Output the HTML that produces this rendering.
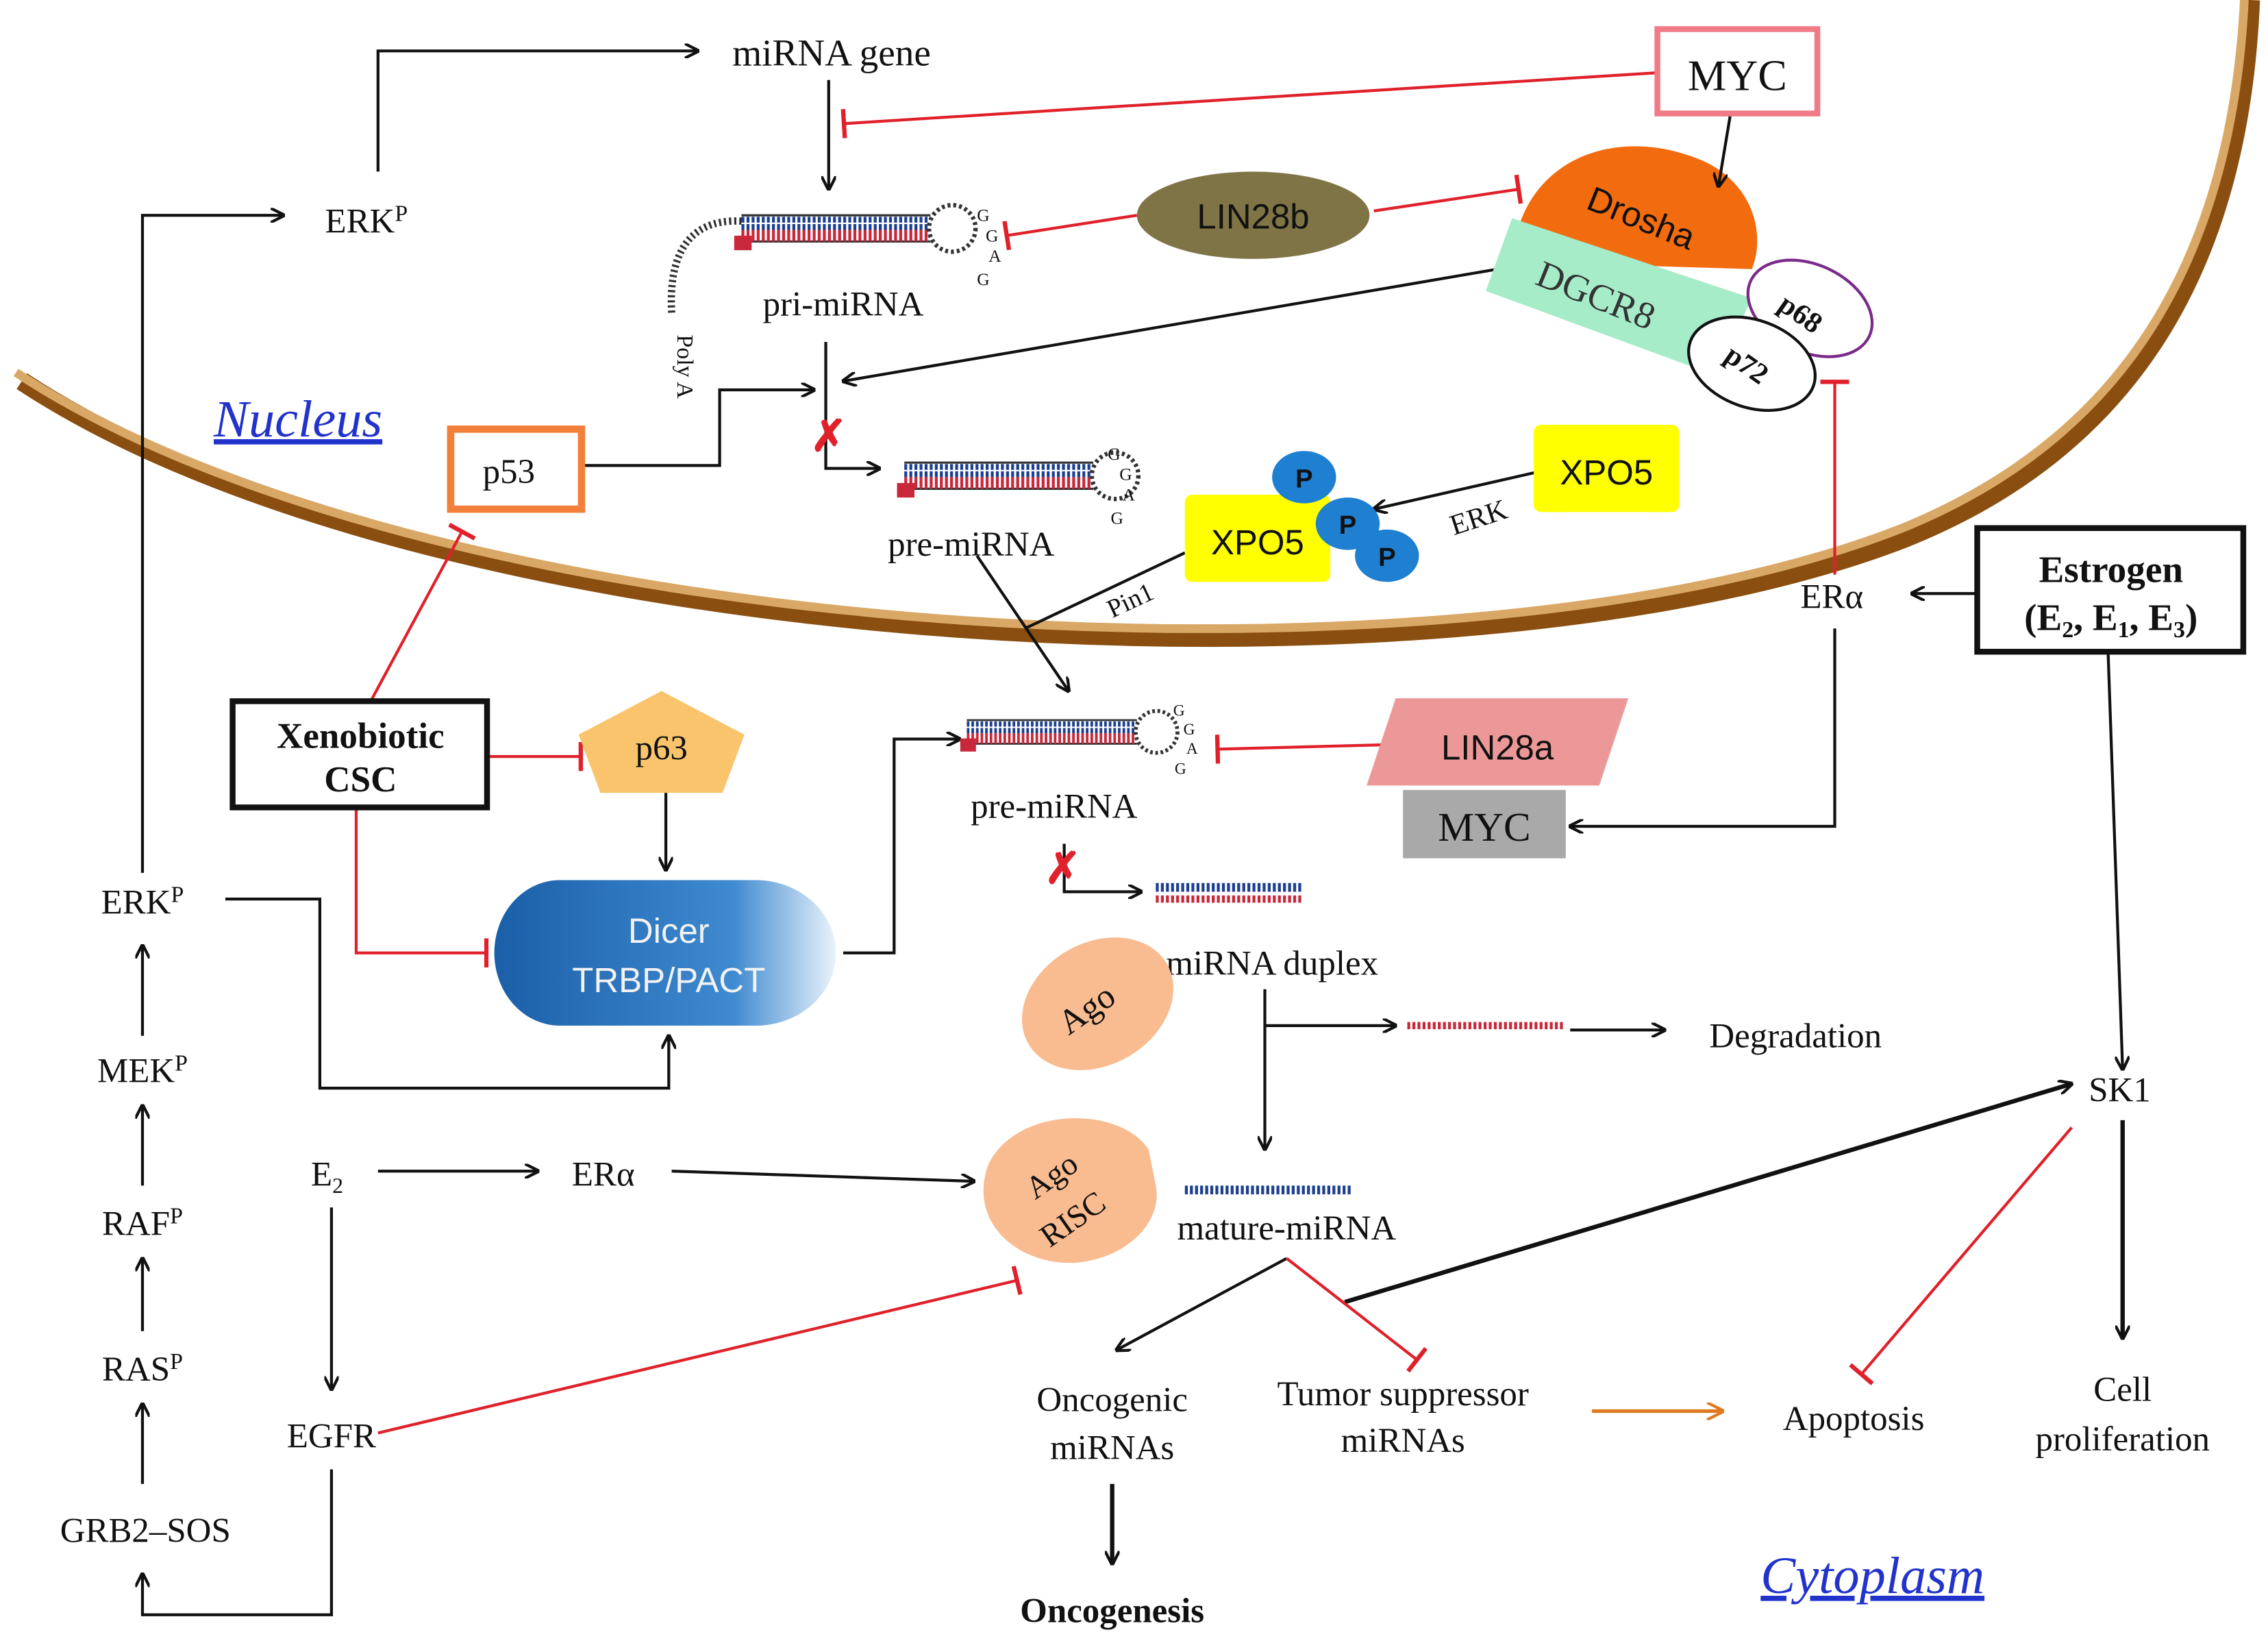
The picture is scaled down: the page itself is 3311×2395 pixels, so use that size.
<!DOCTYPE html>
<html><head><meta charset="utf-8"><style>
html,body{margin:0;padding:0;background:#fff}
svg{display:block}
text{font-family:"Liberation Serif",serif;fill:#111}
.s{font-family:"Liberation Sans",sans-serif}
</style></head><body>
<svg width="3311" height="2395" viewBox="0 0 1560 1128" preserveAspectRatio="none" xmlns="http://www.w3.org/2000/svg">
<defs>
<marker id="a" markerWidth="10" markerHeight="10" refX="9" refY="5" orient="auto" markerUnits="userSpaceOnUse"><path d="M0,0 L10,5 L0,10" fill="none" stroke="#111" stroke-width="2"/></marker>
<marker id="ao" markerWidth="12" markerHeight="12" refX="11" refY="6" orient="auto" markerUnits="userSpaceOnUse"><path d="M0,0 L12,6 L0,12" fill="none" stroke="#e07a20" stroke-width="2"/></marker>
<marker id="t" markerWidth="4" markerHeight="20" refX="2" refY="10" orient="auto" markerUnits="userSpaceOnUse"><rect x="0" y="0" width="3" height="20" fill="#e0202a"/></marker>
<linearGradient id="dg" x1="0" x2="1"><stop offset="0" stop-color="#1a5fa8"/><stop offset="0.7" stop-color="#3f8ad0"/><stop offset="1" stop-color="#eaf3fb"/></linearGradient>
<g id="hp">
<path d="M0,0 H130 M0,18 H130" stroke="#333" stroke-width="1.5"/>
<path d="M0,3 H128 M0,8 H128" stroke="#1d3f8f" stroke-width="4" stroke-dasharray="2,1.5"/>
<path d="M0,12 H128 M0,16 H128" stroke="#c8283a" stroke-width="4" stroke-dasharray="2,1.5"/>
<rect x="-5" y="14" width="12" height="10" fill="#c8283a"/>
<circle cx="145" cy="9" r="16" fill="#fff" stroke="#333" stroke-width="3" stroke-dasharray="2,2"/>
</g>
<g id="dx">
<path d="M0,4 H100" stroke="#1d3f8f" stroke-width="6" stroke-dasharray="2,1.5"/>
<path d="M0,12 H100" stroke="#c8283a" stroke-width="5" stroke-dasharray="2,1.5"/>
</g>
</defs>

<path d="M15,262 C300,450 1000,490 1310,370 C1460,310 1540,190 1548,0" fill="none" stroke="#8a4f10" stroke-width="13"/>
<path d="M15,262 C300,450 1000,490 1310,370 C1460,310 1540,190 1548,0" fill="none" stroke="#d9a866" stroke-width="6" transform="translate(-4,-6)"/>

<g stroke="#111" stroke-width="2" fill="none">
<path d="M260,118 V35 H480" marker-end="url(#a)"/>
<path d="M98,600 V148 H195" marker-end="url(#a)"/>
<path d="M570,55 V130" marker-end="url(#a)"/>
<path d="M1030,185 L580,262" marker-end="url(#a)"/>
<path d="M568,235 V322 H605" marker-end="url(#a)"/>
<path d="M400,320 H495 V268 H560" marker-end="url(#a)"/>
<path d="M1055,325 L945,350" marker-end="url(#a)"/>
<path d="M815,380 L705,432"/>
<path d="M672,382 L735,475" marker-end="url(#a)"/>
<path d="M1360,408 L1315,408" marker-end="url(#a)"/>
<path d="M1262,432 V568 H1080" marker-end="url(#a)"/>
<path d="M1450,448 L1460,735" marker-end="url(#a)"/>
<path d="M458,545 V598" marker-end="url(#a)"/>
<path d="M580,655 H615 V508 H660" marker-end="url(#a)"/>
<path d="M732,580 V613 H785" marker-end="url(#a)"/>
<path d="M870,680 V790" marker-end="url(#a)"/>
<path d="M870,705 H960" marker-end="url(#a)"/>
<path d="M1080,708 H1145" marker-end="url(#a)"/>
<path d="M155,618 H220 V748 H460 V712" marker-end="url(#a)"/>
<path d="M98,712 V650" marker-end="url(#a)"/>
<path d="M98,815 V760" marker-end="url(#a)"/>
<path d="M98,915 V865" marker-end="url(#a)"/>
<path d="M98,1020 V965" marker-end="url(#a)"/>
<path d="M260,805 H370" marker-end="url(#a)"/>
<path d="M462,805 L670,812" marker-end="url(#a)"/>
<path d="M228,830 V955" marker-end="url(#a)"/>
<path d="M228,1010 V1110 H98 V1082" marker-end="url(#a)"/>
<path d="M885,865 L768,928" marker-end="url(#a)"/>
<path d="M925,895 L1425,745" stroke-width="3" marker-end="url(#a)"/>
<path d="M1460,770 V920" stroke-width="3" marker-end="url(#a)"/>
<path d="M765,1020 V1075" stroke-width="3" marker-end="url(#a)"/>
</g>
<path d="M1095,970 H1185" stroke="#e07a20" stroke-width="2.5" marker-end="url(#ao)"/>

<g stroke="#e0202a" stroke-width="2" fill="none">
<path d="M1140,50 L580,85" marker-end="url(#t)"/>
<path d="M782,148 L692,162" marker-end="url(#t)"/>
<path d="M945,145 L1045,130" marker-end="url(#t)"/>
<path d="M1262,395 V262" marker-end="url(#t)"/>
<path d="M255,482 L318,365" marker-end="url(#t)"/>
<path d="M335,520 H400" marker-end="url(#t)"/>
<path d="M245,555 V655 H335" marker-end="url(#t)"/>
<path d="M950,512 L837,515" marker-end="url(#t)"/>
<path d="M260,985 L700,880" marker-end="url(#t)"/>
<path d="M885,865 L975,935" marker-end="url(#t)"/>
<path d="M1425,775 L1280,945" marker-end="url(#t)"/>
</g>
<text x="570" y="310" font-size="30" style="fill:#e0202a" text-anchor="middle" font-weight="bold">✗</text>
<text x="731" y="607" font-size="30" style="fill:#e0202a" text-anchor="middle" font-weight="bold">✗</text>

<path d="M510,152 C470,150 460,180 462,215" fill="none" stroke="#333" stroke-width="5" stroke-dasharray="1.5,2"/>
<use href="#hp" x="510" y="148"/>
<text x="672" y="152" font-size="12">G</text><text x="678" y="166" font-size="12">G</text><text x="680" y="180" font-size="12">A</text><text x="672" y="196" font-size="12">G</text>
<text x="580" y="217" font-size="24" text-anchor="middle">pri-miRNA</text>
<text x="0" y="0" font-size="16" transform="translate(466,230) rotate(90)">Poly A</text>
<use href="#hp" x="622" y="318"/>
<text x="762" y="316" font-size="12">G</text><text x="770" y="330" font-size="12">G</text><text x="772" y="344" font-size="12">A</text><text x="764" y="360" font-size="12">G</text>
<text x="668" y="382" font-size="24" text-anchor="middle">pre-miRNA</text>
<use href="#hp" x="665" y="495" transform="translate(665,495) scale(0.9) translate(-665,-495)"/>
<text x="807" y="492" font-size="11">G</text><text x="814" y="505" font-size="11">G</text><text x="816" y="518" font-size="11">A</text><text x="808" y="532" font-size="11">G</text>
<text x="725" y="562" font-size="24" text-anchor="middle">pre-miRNA</text>
<use href="#dx" x="795" y="606"/>
<text x="875" y="670" font-size="24" text-anchor="middle">miRNA duplex</text>
<path d="M968,705 H1075" stroke="#c8283a" stroke-width="5" stroke-dasharray="2,1.5"/>
<path d="M815,818 H930" stroke="#1d3f8f" stroke-width="6" stroke-dasharray="2,1.5"/>
<text x="885" y="852" font-size="24" text-anchor="middle">mature-miRNA</text>

<rect x="1140" y="20" width="110" height="58" fill="#fff" stroke="#f07a85" stroke-width="4"/>
<text x="1195" y="62" font-size="30" text-anchor="middle">MYC</text>
<ellipse cx="862" cy="148" rx="80" ry="30" fill="#7f7445"/>
<text x="862" y="157" font-size="24" class="s" text-anchor="middle">LIN28b</text>
<path d="M1040,180 C1045,110 1110,85 1170,110 C1205,125 1215,160 1205,185 Z" fill="#f26b0f"/>
<text x="0" y="0" font-size="24" class="s" transform="translate(1090,143) rotate(22)">Drosha</text>
<path d="M1040,150 L1205,205 L1180,258 L1022,200 Z" fill="#a6ecc8"/>
<text x="0" y="0" font-size="26" transform="translate(1055,195) rotate(22)" style="fill:#333">DGCR8</text>
<ellipse cx="1245" cy="212" rx="45" ry="30" fill="#fff" stroke="#7a2a8a" stroke-width="2" transform="rotate(25 1245 212)"/>
<text x="0" y="0" font-size="20" font-weight="bold" transform="translate(1222,212) rotate(35)">p68</text>
<ellipse cx="1205" cy="250" rx="45" ry="30" fill="#fff" stroke="#111" stroke-width="2" transform="rotate(20 1205 250)"/>
<text x="0" y="0" font-size="20" font-weight="bold" transform="translate(1185,247) rotate(35)">p72</text>
<path d="M1190,80 L1182,128" stroke="#111" stroke-width="2" fill="none" marker-end="url(#a)"/>

<text x="205" y="300" font-size="36" font-style="italic" text-anchor="middle" text-decoration="underline" style="fill:#2233cc">Nucleus</text>
<rect x="310" y="295" width="90" height="55" fill="#fff" stroke="#f2803a" stroke-width="5"/>
<text x="350" y="332" font-size="24" text-anchor="middle">p53</text>

<rect x="1055" y="292" width="100" height="60" rx="5" fill="#ffff00"/>
<text x="1105" y="333" font-size="24" class="s" text-anchor="middle">XPO5</text>
<text x="0" y="0" font-size="20" transform="translate(1000,368) rotate(-18)">ERK</text>
<rect x="815" y="340" width="100" height="60" rx="5" fill="#ffff00"/>
<text x="865" y="381" font-size="24" class="s" text-anchor="middle">XPO5</text>
<ellipse cx="897" cy="328" rx="22" ry="18" fill="#1f7fd0"/><text x="897" y="335" font-size="18" class="s" font-weight="bold" text-anchor="middle">P</text>
<ellipse cx="927" cy="360" rx="22" ry="18" fill="#1f7fd0"/><text x="927" y="367" font-size="18" class="s" font-weight="bold" text-anchor="middle">P</text>
<ellipse cx="954" cy="382" rx="22" ry="18" fill="#1f7fd0"/><text x="954" y="389" font-size="18" class="s" font-weight="bold" text-anchor="middle">P</text>
<text x="0" y="0" font-size="18" transform="translate(765,425) rotate(-25)">Pin1</text>

<text x="1260" y="418" font-size="24" text-anchor="middle">ERα</text>
<rect x="1360" y="363" width="183" height="85" fill="#fff" stroke="#111" stroke-width="4"/>
<text x="1452" y="400" font-size="26" font-weight="bold" text-anchor="middle">Estrogen</text>
<text x="1452" y="433" font-size="26" font-weight="bold" text-anchor="middle">(E<tspan font-size="16" dy="5">2</tspan><tspan dy="-5">, E</tspan><tspan font-size="16" dy="5">1</tspan><tspan dy="-5">, E</tspan><tspan font-size="16" dy="5">3</tspan><tspan dy="-5">)</tspan></text>

<rect x="160" y="482" width="175" height="73" fill="#fff" stroke="#111" stroke-width="4"/>
<text x="248" y="514" font-size="25" font-weight="bold" text-anchor="middle">Xenobiotic</text>
<text x="248" y="544" font-size="25" font-weight="bold" text-anchor="middle">CSC</text>
<polygon points="455,475 512,505 497,545 413,545 398,505" fill="#f9c46b"/>
<text x="455" y="522" font-size="24" text-anchor="middle">p63</text>
<path d="M385,605 H520 A55,50 0 0 1 575,655 A55,50 0 0 1 520,705 H385 A45,50 0 0 1 385,605 Z" fill="url(#dg)"/>
<text x="460" y="648" font-size="24" class="s" text-anchor="middle" style="fill:#f2f2f2">Dicer</text>
<text x="460" y="682" font-size="24" class="s" text-anchor="middle" style="fill:#f2f2f2">TRBP/PACT</text>
<polygon points="960,480 1120,480 1100,540 940,540" fill="#ec9898"/>
<text x="1030" y="522" font-size="24" class="s" text-anchor="middle">LIN28a</text>
<rect x="965" y="543" width="112" height="47" fill="#a9a9a9"/>
<text x="1021" y="578" font-size="28" text-anchor="middle">MYC</text>

<ellipse cx="755" cy="690" rx="55" ry="42" fill="#f9bb90" transform="rotate(-30 755 690)"/>
<text x="0" y="0" font-size="24" transform="translate(735,712) rotate(-35)">Ago</text>
<path d="M790,790 C770,760 700,760 680,800 C665,840 700,870 740,868 C775,865 800,840 795,815 Z" fill="#f9bb90"/>
<text x="0" y="0" font-size="22" transform="translate(712,825) rotate(-35)">Ago</text>
<text x="0" y="0" font-size="22" transform="translate(722,858) rotate(-35)">RISC</text>

<text x="1235" y="720" font-size="24" text-anchor="middle">Degradation</text>
<text x="252" y="160" font-size="24" text-anchor="middle">ERK<tspan font-size="16" dy="-8">P</tspan></text>
<text x="98" y="628" font-size="24" text-anchor="middle">ERK<tspan font-size="16" dy="-8">P</tspan></text>
<text x="98" y="744" font-size="24" text-anchor="middle">MEK<tspan font-size="16" dy="-8">P</tspan></text>
<text x="98" y="849" font-size="24" text-anchor="middle">RAF<tspan font-size="16" dy="-8">P</tspan></text>
<text x="98" y="949" font-size="24" text-anchor="middle">RAS<tspan font-size="16" dy="-8">P</tspan></text>
<text x="100" y="1060" font-size="24" text-anchor="middle">GRB2–SOS</text>
<text x="225" y="815" font-size="24" text-anchor="middle">E<tspan font-size="15" dy="5">2</tspan></text>
<text x="415" y="815" font-size="24" text-anchor="middle">ERα</text>
<text x="228" y="995" font-size="24" text-anchor="middle">EGFR</text>
<text x="1458" y="757" font-size="24" text-anchor="middle">SK1</text>
<text x="572" y="45" font-size="26" text-anchor="middle">miRNA gene</text>
<text x="765" y="970" font-size="24" text-anchor="middle">Oncogenic</text>
<text x="765" y="1003" font-size="24" text-anchor="middle">miRNAs</text>
<text x="965" y="966" font-size="24" text-anchor="middle">Tumor suppressor</text>
<text x="965" y="998" font-size="24" text-anchor="middle">miRNAs</text>
<text x="1275" y="983" font-size="24" text-anchor="middle">Apoptosis</text>
<text x="1460" y="963" font-size="24" text-anchor="middle">Cell</text>
<text x="1460" y="997" font-size="24" text-anchor="middle">proliferation</text>
<text x="765" y="1115" font-size="24" font-weight="bold" text-anchor="middle">Oncogenesis</text>
<text x="1288" y="1095" font-size="36" font-style="italic" text-anchor="middle" text-decoration="underline" style="fill:#2233cc">Cytoplasm</text>
</svg>
</body></html>
